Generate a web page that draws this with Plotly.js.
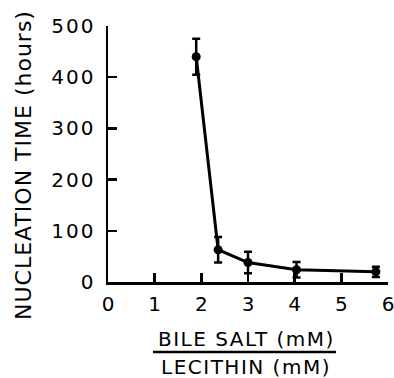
<!DOCTYPE html>
<html>
<head>
<meta charset="utf-8">
<script src="https://cdn.plot.ly/plotly-3.0.1.min.js"></script>
<style>html,body{margin:0;padding:0;background:#fff;}</style>
</head>
<body>
<div id="chart" style="width:394px;height:378px;"></div>
<script>
var ratio = [1.89, 2.36, 3.0, 4.04, 5.74];
var nucleationHours = [440, 63, 38, 24, 20];
var errHours = [35, 25, 21, 15, 10];
var xTicks = [0, 1, 2, 3, 4, 5, 6];
var yTicks = [0, 100, 200, 300, 400, 500];

var font = "DejaVu Sans, sans-serif";
function spaced(s, px) { return '<span style="letter-spacing:' + px + 'px">' + s + '</span>'; }

var trace = {
  x: ratio, y: nucleationHours,
  type: 'scatter', mode: 'lines+markers',
  line: {color: '#000', width: 3},
  marker: {color: '#000', size: 9},
  error_y: {type: 'data', array: errHours, visible: true, color: '#000', thickness: 2.5, width: 4},
  cliponaxis: false
};

var layout = {
  width: 394, height: 378,
  margin: {l: 108, r: 6, t: 26, b: 96},
  paper_bgcolor: '#fff', plot_bgcolor: '#fff',
  showlegend: false,
  font: {family: font, color: '#000'},
  xaxis: {
    range: [0, 6], tickvals: xTicks, ticktext: xTicks.map(String),
    showgrid: false, zeroline: false,
    showline: true, linecolor: '#000', linewidth: 2.5,
    ticks: 'inside', ticklen: 9, tickwidth: 2.5, tickcolor: '#000',
    tickfont: {family: font, size: 20, color: '#000'},
    ticklabelstandoff: 2, ticklabeloverflow: 'allow'
  },
  yaxis: {
    range: [0, 500], tickvals: yTicks, ticktext: yTicks.map(function (v) { return spaced(String(v), 2); }),
    showgrid: false, zeroline: false,
    showline: true, linecolor: '#000', linewidth: 2.5,
    ticks: 'inside', ticklen: 9, tickwidth: 2.5, tickcolor: '#000',
    tickfont: {family: font, size: 20, color: '#000'},
    ticklabelstandoff: 6, ticklabeloverflow: 'allow'
  },
  shapes: [{
    type: 'line', xref: 'paper', yref: 'paper',
    x0: (153 - 108) / 280, x1: (336 - 108) / 280,
    y0: -(352 - 282) / 256, y1: -(352 - 282) / 256,
    line: {color: '#000', width: 2.5}
  }],
  annotations: [
    {text: spaced('NUCLEATION TIME (hours)', 1), xref: 'paper', yref: 'paper',
     x: (23 - 108) / 280, y: (282 - 165) / 256, showarrow: false, textangle: -90,
     xanchor: 'center', yanchor: 'middle', font: {family: font, size: 22, color: '#000'}},
    {text: spaced('BILE SALT (mM)', 1.5), xref: 'paper', yref: 'paper',
     x: (246 - 108) / 280, y: -(339 - 282) / 256, showarrow: false,
     xanchor: 'center', yanchor: 'middle', font: {family: font, size: 20, color: '#000'}},
    {text: spaced('LECITHIN (mM)', 1.5), xref: 'paper', yref: 'paper',
     x: (246 - 108) / 280, y: -(367 - 282) / 256, showarrow: false,
     xanchor: 'center', yanchor: 'middle', font: {family: font, size: 20, color: '#000'}}
  ]
};

Plotly.newPlot('chart', [trace], layout, {displayModeBar: false, staticPlot: true});
</script>
</body>
</html>
